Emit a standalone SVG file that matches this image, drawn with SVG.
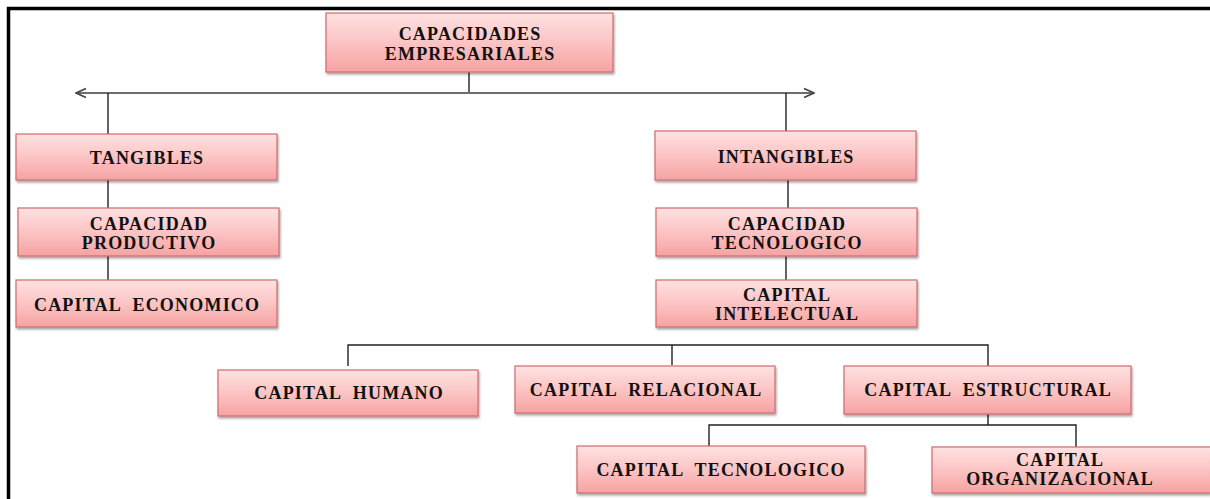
<svg xmlns="http://www.w3.org/2000/svg" width="1210" height="499" viewBox="0 0 1210 499">
<style>
.box{fill:url(#g);stroke:#cf6b6b;stroke-width:1.2;filter:url(#sh)}
.t{font-family:"Liberation Serif","Times New Roman",serif;font-weight:bold;font-size:18px;letter-spacing:1.2px;fill:#111;text-anchor:middle}
.c{fill:none;stroke:#222;stroke-width:1.4}
.a{fill:none;stroke:#6e6e6e;stroke-width:2}
</style>
<defs>
<linearGradient id="g" x1="0" y1="0" x2="0" y2="1">
<stop offset="0" stop-color="#ffe2e2"/>
<stop offset="0.5" stop-color="#fcc4c4"/>
<stop offset="1" stop-color="#f6a2a2"/>
</linearGradient>
<filter id="sh" x="-5%" y="-10%" width="110%" height="130%">
<feDropShadow dx="1" dy="2" stdDeviation="1.2" flood-color="#000" flood-opacity="0.35"/>
</filter>
<marker id="ah" viewBox="0 0 12 12" refX="11" refY="6" markerWidth="12" markerHeight="12" markerUnits="userSpaceOnUse" orient="auto-start-reverse">
<path d="M1,1.5 L11,6 L1,10.5" fill="none" stroke="#444" stroke-width="1.6"/>
</marker>
</defs>
<rect width="1210" height="499" fill="#fff"/>
<path d="M8.5,499 V8.5 H1210" fill="none" stroke="#000" stroke-width="3.5"/>

<g id="connectors">
<line class="c" x1="469" y1="72" x2="469" y2="93"/>
<line class="a" x1="76" y1="93" x2="814" y2="93" marker-start="url(#ah)" marker-end="url(#ah)"/>
<line class="c" x1="108" y1="93" x2="108" y2="134"/>
<line class="c" x1="786" y1="93" x2="786" y2="131"/>
<line class="c" x1="108" y1="180" x2="108" y2="208"/>
<line class="c" x1="108" y1="256" x2="108" y2="280"/>
<line class="c" x1="788" y1="180" x2="788" y2="208"/>
<line class="c" x1="786" y1="256" x2="786" y2="280"/>
<path class="c" d="M348,366 V345 H988 V366"/>
<line class="c" x1="672" y1="345" x2="672" y2="365"/>
<line class="c" x1="988" y1="414" x2="988" y2="425"/>
<path class="c" d="M709,446 V425 H1076 V447"/>
</g>

<g id="n-capacidades">
<rect class="box" x="326" y="13" width="287" height="59"/>
<text class="t" x="470.1" y="39.5">CAPACIDADES</text>
<text class="t" x="470.1" y="59.5">EMPRESARIALES</text>
</g>
<g id="n-tangibles">
<rect class="box" x="16" y="134" width="261" height="46"/>
<text class="t" x="147.1" y="164">TANGIBLES</text>
</g>
<g id="n-cap-productivo">
<rect class="box" x="18" y="208" width="261" height="48"/>
<text class="t" x="149.1" y="230">CAPACIDAD</text>
<text class="t" x="149.1" y="249">PRODUCTIVO</text>
</g>
<g id="n-capital-economico">
<rect class="box" x="16" y="280" width="261" height="47"/>
<text class="t" x="147.1" y="311" xml:space="preserve">CAPITAL  ECONOMICO</text>
</g>
<g id="n-intangibles">
<rect class="box" x="655" y="131" width="261" height="49"/>
<text class="t" x="786.1" y="163">INTANGIBLES</text>
</g>
<g id="n-cap-tecnologico">
<rect class="box" x="656" y="208" width="261" height="48"/>
<text class="t" x="787.1" y="230">CAPACIDAD</text>
<text class="t" x="787.1" y="249">TECNOLOGICO</text>
</g>
<g id="n-capital-intelectual">
<rect class="box" x="656" y="280" width="261" height="47"/>
<text class="t" x="787.1" y="301">CAPITAL</text>
<text class="t" x="787.1" y="320">INTELECTUAL</text>
</g>
<g id="n-capital-humano">
<rect class="box" x="218" y="370" width="260" height="46"/>
<text class="t" x="349.1" y="399" xml:space="preserve">CAPITAL  HUMANO</text>
</g>
<g id="n-capital-relacional">
<rect class="box" x="515" y="366" width="260" height="47"/>
<text class="t" x="646.1" y="396" xml:space="preserve">CAPITAL  RELACIONAL</text>
</g>
<g id="n-capital-estructural">
<rect class="box" x="844" y="366" width="287" height="48"/>
<text class="t" x="988.1" y="396" xml:space="preserve">CAPITAL  ESTRUCTURAL</text>
</g>
<g id="n-capital-tecnologico">
<rect class="box" x="577" y="446" width="288" height="47"/>
<text class="t" x="721.1" y="476" xml:space="preserve">CAPITAL  TECNOLOGICO</text>
</g>
<g id="n-capital-organizacional">
<rect class="box" x="932" y="447" width="282" height="46"/>
<text class="t" x="1060.1" y="466">CAPITAL</text>
<text class="t" x="1060.1" y="485">ORGANIZACIONAL</text>
</g>
</svg>
